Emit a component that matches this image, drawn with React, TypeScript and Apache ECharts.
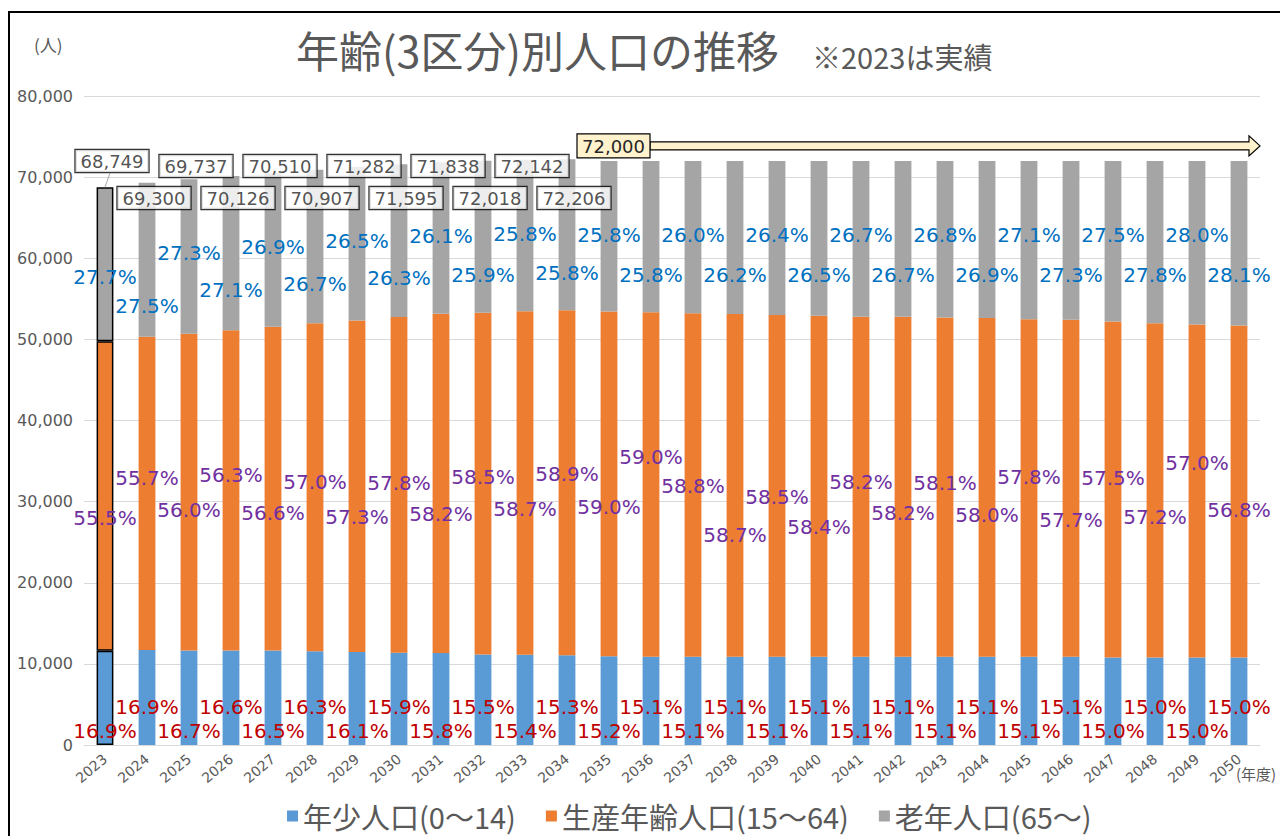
import React, { useEffect, useRef } from "react";
import * as echarts from "echarts";

const years = [
  "2023", "2024", "2025", "2026", "2027", "2028", "2029", "2030", "2031", "2032",
  "2033", "2034", "2035", "2036", "2037", "2038", "2039", "2040", "2041", "2042",
  "2043", "2044", "2045", "2046", "2047", "2048", "2049", "2050",
];

const totals = [
  68749, 69300, 69737, 70126, 70510, 70907, 71282, 71595, 71838, 72018,
  72142, 72206, 72000, 72000, 72000, 72000, 72000, 72000, 72000, 72000,
  72000, 72000, 72000, 72000, 72000, 72000, 72000, 72000,
];

const young = [
  11619, 11712, 11646, 11641, 11634, 11558, 11476, 11384, 11350, 11163,
  11110, 11048, 10944, 10872, 10872, 10872, 10872, 10872, 10872, 10872,
  10872, 10872, 10872, 10872, 10800, 10800, 10800, 10800,
];

const working = [
  38156, 38600, 39053, 39481, 39909, 40417, 40845, 41382, 41810, 42131,
  42347, 42529, 42480, 42480, 42336, 42264, 42120, 42048, 41904, 41904,
  41832, 41760, 41616, 41544, 41400, 41184, 41040, 40896,
];

const elderly = [
  18974, 18988, 19038, 19004, 18967, 18932, 18961, 18829, 18678, 18724,
  18685, 18629, 18576, 18648, 18792, 18864, 19008, 19080, 19224, 19224,
  19296, 19368, 19512, 19584, 19800, 20016, 20160, 20304,
];

const youngPct = [
  16.9, 16.9, 16.7, 16.6, 16.5, 16.3, 16.1, 15.9, 15.8, 15.5,
  15.4, 15.3, 15.2, 15.1, 15.1, 15.1, 15.1, 15.1, 15.1, 15.1,
  15.1, 15.1, 15.1, 15.1, 15.0, 15.0, 15.0, 15.0,
];

const workingPct = [
  55.5, 55.7, 56.0, 56.3, 56.6, 57.0, 57.3, 57.8, 58.2, 58.5,
  58.7, 58.9, 59.0, 59.0, 58.8, 58.7, 58.5, 58.4, 58.2, 58.2,
  58.1, 58.0, 57.8, 57.7, 57.5, 57.2, 57.0, 56.8,
];

const elderlyPct = [
  27.7, 27.5, 27.3, 27.1, 26.9, 26.7, 26.5, 26.3, 26.1, 25.9,
  25.8, 25.8, 25.8, 25.8, 26.0, 26.2, 26.4, 26.5, 26.7, 26.7,
  26.8, 26.9, 27.1, 27.3, 27.5, 27.8, 28.0, 28.1,
];

const seriesNames = ["年少人口(0～14)", "生産年齢人口(15～64)", "老年人口(65～)"];
const labelledTotals = 12; // totals shown individually (2023-2034)
const flatTotal = 72000;

// layout: vertical screen rows (px) of the hand-placed 生産年齢 % labels
const workingLabelRowY = [
  518, 478, 510, 475, 513, 482, 517, 483, 514, 477,
  509, 474, 507, 457, 486, 535, 497, 527, 482, 513,
  483, 515, 477, 520, 478, 517, 463, 510,
];

const FONT = '"Noto Sans CJK JP", "Noto Sans", sans-serif';
const NUM_FONT = '"DejaVu Sans", "Noto Sans CJK JP", sans-serif';
const GRAY_TEXT = "#595959";
const fmt = (n: number) => n.toLocaleString("en-US");
const pct = (n: number) => n.toFixed(1) + "%";

function buildOption(totalOffsets: number[] | null, workOffsets: number[] | null, extraGraphics: any[]) {
  const edge = (i: number) =>
    i === 0 ? { borderColor: "#000", borderWidth: 1.5 } : {};

  const youngData = young.map((v, i) => ({
    value: v,
    itemStyle: edge(i),
    label: { offset: [0, i % 2 === 1 ? -24 : 0] },
  }));
  const workingData = working.map((v, i) => ({
    value: v,
    itemStyle: edge(i),
    label: { offset: [0, workOffsets ? workOffsets[i] : 0] },
  }));
  const elderlyData = elderly.map((v, i) => {
    const high = i > 0 && i % 2 === 0;
    return {
      value: v,
      itemStyle: edge(i),
      label: { offset: [0, i === 0 ? 76 : i === 1 ? 109 : high ? 60 : 100] },
    };
  });
  const totalData = totals.slice(0, labelledTotals).map((v, i) => ({
    value: v,
    label: { offset: [7, totalOffsets ? totalOffsets[i] : 0] },
  }));

  const pctLabel = (arr: number[], color: string, position: string) => ({
    show: true,
    position,
    distance: 4,
    fontSize: 20,
    fontFamily: NUM_FONT,
    color,
    formatter: (p: any) => pct(arr[p.dataIndex]),
  });

  return {
    animation: false,
    textStyle: { fontFamily: FONT },
    grid: { left: 84, right: 20, top: 96, bottom: 91, containLabel: false },
    legend: {
      data: seriesNames,
      left: 287,
      top: 801,
      padding: 0,
      icon: "rect",
      itemWidth: 11,
      itemHeight: 11,
      itemGap: 30,
      textStyle: { fontSize: 29, lineHeight: 30, color: GRAY_TEXT, fontFamily: FONT },
    },
    xAxis: {
      type: "category",
      data: years,
      axisLine: { lineStyle: { color: "#D9D9D9", width: 1 } },
      axisTick: { show: false },
      axisLabel: {
        rotate: 40,
        fontSize: 14,
        color: GRAY_TEXT,
        margin: 12,
        interval: 0,
        fontFamily: NUM_FONT,
      },
    },
    yAxis: {
      type: "value",
      min: 0,
      max: 80000,
      interval: 10000,
      axisLine: { show: false },
      axisTick: { show: false },
      splitLine: { lineStyle: { color: "#D9D9D9", width: 1 } },
      axisLabel: {
        fontSize: 16,
        color: GRAY_TEXT,
        margin: 11,
        formatter: (v: number) => fmt(v),
        fontFamily: NUM_FONT,
      },
    },
    series: [
      {
        name: seriesNames[0],
        type: "bar",
        stack: "pop",
        barWidth: "40%",
        itemStyle: { color: "#5B9BD5" },
        label: pctLabel(youngPct, "#C00000", "insideBottom"),
        data: youngData,
      },
      {
        name: seriesNames[1],
        type: "bar",
        stack: "pop",
        barWidth: "40%",
        itemStyle: { color: "#ED7D31" },
        label: pctLabel(workingPct, "#7030A0", "inside"),
        data: workingData,
      },
      {
        name: seriesNames[2],
        type: "bar",
        stack: "pop",
        barWidth: "40%",
        itemStyle: { color: "#A5A5A5" },
        label: pctLabel(elderlyPct, "#0070C0", "insideTop"),
        data: elderlyData,
      },
      {
        id: "totals",
        name: "合計",
        type: "scatter",
        symbolSize: 1,
        itemStyle: { color: "rgba(0,0,0,0)" },
        z: 10,
        label: {
          show: true,
          position: "inside",
          fontSize: 18,
          fontFamily: NUM_FONT,
          color: "#262626",
          backgroundColor: "#FFFFFF",
          borderColor: "#000000",
          borderWidth: 1.2,
          padding: [3, 5, 1, 5],
          formatter: (p: any) => fmt(p.value),
        },
        data: totalData,
      },
    ],
    graphic: [
      {
        type: "rect",
        shape: { x: 9, y: 12, width: 1320, height: 900 },
        style: { fill: "none", stroke: "#000", lineWidth: 2 },
        silent: true,
      },
      {
        type: "text",
        x: 296,
        y: 49,
        style: {
          text: "年齢(3区分)別人口の推移",
          fontSize: 43,
          fontFamily: FONT,
          fill: GRAY_TEXT,
          verticalAlign: "middle",
        },
      },
      {
        type: "text",
        x: 812,
        y: 56,
        style: {
          text: "※2023は実績",
          fontSize: 29,
          fontFamily: FONT,
          fill: GRAY_TEXT,
          verticalAlign: "middle",
        },
      },
      {
        type: "text",
        x: 34,
        y: 44,
        style: {
          text: "(人)",
          fontSize: 17,
          fontFamily: FONT,
          fill: GRAY_TEXT,
          verticalAlign: "middle",
        },
      },
      {
        type: "text",
        x: 1236,
        y: 773,
        style: {
          text: "(年度)",
          fontSize: 15,
          fontFamily: FONT,
          fill: GRAY_TEXT,
          verticalAlign: "middle",
        },
      },
      ...extraGraphics,
    ],
  };
}

export default function App() {
  const ref = useRef<HTMLDivElement>(null);
  useEffect(() => {
    if (!ref.current) return;
    const chart = echarts.init(ref.current, null, { renderer: "svg" });
    chart.setOption(buildOption(null, null, []) as any);

    const toPx = (i: number, v: number) =>
      chart.convertToPixel({ seriesIndex: 0 }, [i, v]) as number[];

    // total labels: two staggered rows, anchored at each bar top through the chart's scale
    const totalOffsets = totals.slice(0, labelledTotals).map((t, i) => {
      const rowY = i === 0 ? 161 : i % 2 === 0 ? 166 : 198;
      return rowY - toPx(i, t)[1];
    });
    // working-age % labels: offset from segment centre to their row
    const workOffsets = working.map((w, i) => workingLabelRowY[i] - toPx(i, young[i] + w / 2)[1]);

    const p0 = toPx(0, totals[0]);
    const pFlatStart = toPx(labelledTotals, flatTotal);
    const pFlatEnd = toPx(years.length - 1, flatTotal);
    const arrowY = pFlatStart[1] - 15;
    const boxX = pFlatStart[0] - 32;
    const boxW = 73;
    const tipX = pFlatEnd[0] + 21;

    const extra = [
      {
        type: "line",
        shape: { x1: p0[0] + 5, y1: 161 + 12, x2: p0[0], y2: p0[1] },
        style: { stroke: "#A6A6A6", lineWidth: 1 },
        z: 20,
      },
      {
        type: "polygon",
        shape: {
          points: [
            [boxX + boxW, arrowY - 4],
            [tipX - 11, arrowY - 4],
            [tipX - 11, arrowY - 10],
            [tipX, arrowY],
            [tipX - 11, arrowY + 10],
            [tipX - 11, arrowY + 4],
            [boxX + boxW, arrowY + 4],
          ],
        },
        style: { fill: "#FFF2CC", stroke: "#000", lineWidth: 1.2 },
        z: 20,
      },
      {
        type: "rect",
        shape: { x: boxX, y: arrowY - 12, width: boxW, height: 24 },
        style: { fill: "#FFF2CC", stroke: "#000", lineWidth: 1.2 },
        z: 21,
      },
      {
        type: "text",
        x: boxX + boxW / 2,
        y: arrowY + 1,
        style: {
          text: fmt(flatTotal),
          fontSize: 18,
          fontFamily: NUM_FONT,
          fill: "#262626",
          align: "center",
          verticalAlign: "middle",
        },
        z: 22,
      },
    ];

    chart.setOption(buildOption(totalOffsets, workOffsets, extra) as any, true);
    return () => chart.dispose();
  }, []);
  return (
    <div
      ref={ref}
      style={{ position: "fixed", left: 0, top: 0, width: 1280, height: 836, background: "#fff" }}
    />
  );
}
